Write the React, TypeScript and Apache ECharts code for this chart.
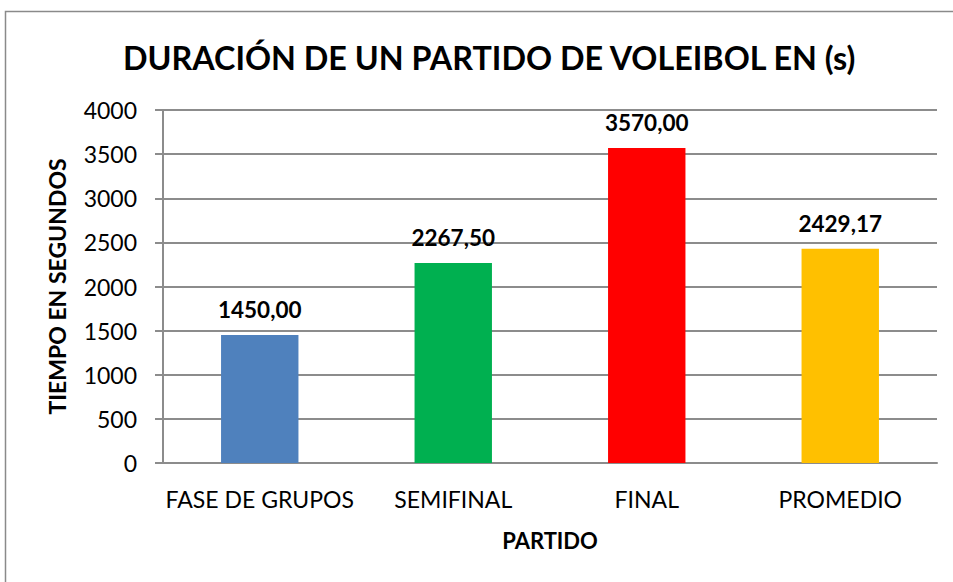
import React, { useEffect, useRef } from "react";
import * as echarts from "echarts";

const categories = ["FASE DE GRUPOS", "SEMIFINAL", "FINAL", "PROMEDIO"];
const values = [1450.0, 2267.5, 3570.0, 2429.17];
const barColors = ["#4F81BD", "#00B050", "#FF0000", "#FFC000"];
const titleText = "DURACIÓN DE UN PARTIDO DE VOLEIBOL EN (s)";
const yAxisName = "TIEMPO EN SEGUNDOS";
const xAxisName = "PARTIDO";

const FONT = "Lato, 'Open Sans', sans-serif";

export default function App() {
  const ref = useRef<HTMLDivElement>(null);
  useEffect(() => {
    if (!ref.current) return;
    const chart = echarts.init(ref.current, undefined, { renderer: "svg" });
    chart.setOption({
      animation: false,
      backgroundColor: "#ffffff",
      title: {
        text: titleText,
        left: 118,
        top: 36,
        textStyle: { fontFamily: FONT, fontSize: 32.3, fontWeight: "bold", color: "#000" },
      },
      graphic: [
        {
          type: "rect",
          shape: { x: 5.5, y: 11.5, width: 1000, height: 1000 },
          style: { fill: "none", stroke: "#8a8a8a", lineWidth: 1.5 },
          silent: true,
        },
      ],
      grid: { left: 163, right: 16, top: 110, bottom: 119, containLabel: false },
      xAxis: {
        type: "category",
        data: categories,
        name: xAxisName,
        nameLocation: "middle",
        nameGap: 66,
        nameTextStyle: { fontFamily: FONT, fontSize: 22, fontWeight: "bold", color: "#000" },
        axisLine: { show: true, lineStyle: { color: "#8c8c8c", width: 2 } },
        axisTick: { show: false },
        axisLabel: { fontFamily: FONT, fontSize: 23, color: "#000", margin: 24, interval: 0 },
      },
      yAxis: {
        type: "value",
        min: 0,
        max: 4000,
        interval: 500,
        name: yAxisName,
        nameLocation: "middle",
        nameGap: 95,
        nameTextStyle: { fontFamily: FONT, fontSize: 23, fontWeight: "bold", color: "#000" },
        axisLine: { show: true, lineStyle: { color: "#8c8c8c", width: 2 } },
        axisTick: { show: true, length: 8, lineStyle: { color: "#8c8c8c", width: 2 } },
        splitLine: { show: true, lineStyle: { color: "#8c8c8c", width: 2 } },
        axisLabel: {
          fontFamily: FONT,
          fontSize: 23,
          color: "#000",
          margin: 26,
          formatter: (v: number) => String(v),
        },
      },
      series: [
        {
          type: "bar",
          barWidth: "40%",
          data: values.map((v, i) => ({ value: v, itemStyle: { color: barColors[i] } })),
          label: {
            show: true,
            position: "top",
            distance: 14,
            fontFamily: FONT,
            fontSize: 22.5,
            fontWeight: "bold",
            color: "#000",
            formatter: (p: any) => Number(p.value).toFixed(2).replace(".", ","),
          },
        },
      ],
    });
    return () => chart.dispose();
  }, []);
  return (
    <div
      ref={ref}
      style={{ position: "fixed", left: 0, top: 0, width: 953, height: 582 }}
    />
  );
}
